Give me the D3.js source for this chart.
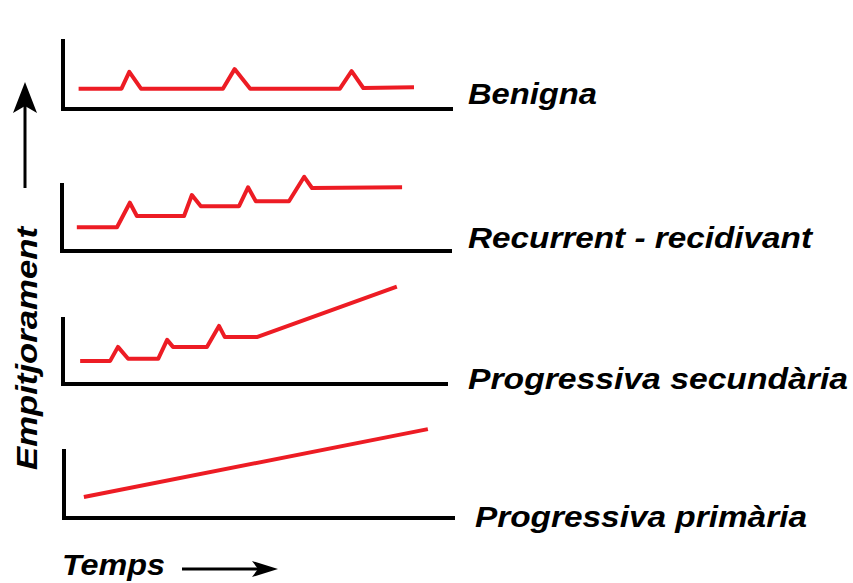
<!DOCTYPE html>
<html>
<head>
<meta charset="utf-8">
<script src="https://cdn.jsdelivr.net/npm/d3@7"></script>
<style>
  html, body { margin: 0; padding: 0; background: #fff; }
  svg { display: block; }
  text { font-family: "Liberation Sans", Arial, sans-serif; font-weight: bold; font-style: italic; fill: #000; }
</style>
</head>
<body>
<svg id="chart" width="853" height="583"></svg>
<script>
// ---- Data (time 0..100, severity 0..10 = axis height) ----
const panelNames = ["Benigna", "Recurrent - recidivant", "Progressiva secundària", "Progressiva primària"];

const benignaTime     = [4, 15, 17, 20, 41, 44, 48, 71, 74, 77, 90];
const benignaSev      = [2.9, 2.9, 5.3, 2.9, 2.9, 5.7, 2.9, 2.9, 5.4, 3.0, 3.1];

const recurrentTime   = [3.8, 14.1, 17.4, 19.2, 31.3, 33.3, 35.6, 45.4, 47.7, 49.7, 58.2, 62.1, 64.1, 87.2];
const recurrentSev    = [3.4, 3.4, 6.9, 5.0, 5.0, 8.0, 6.4, 6.4, 9.1, 7.1, 7.1, 10.6, 9.0, 9.1];

const secundariaTime  = [4.4, 12.1, 14.1, 16.7, 24.4, 26.7, 28.2, 36.9, 40.0, 41.5, 49.7, 85.6];
const secundariaSev   = [3.3, 3.3, 5.3, 3.6, 3.6, 6.3, 5.3, 5.3, 8.3, 6.7, 6.7, 13.9];

const primariaTime    = [5.1, 93.3];
const primariaSev     = [3.0, 12.7];

const xAxisTitle = "Temps";
const yAxisTitle = "Empitjorament";

// ---- Layout ----
const panels = [
  { time: benignaTime,    sev: benignaSev,    x0: 63, x1: 453, top: 39,  base: 109, lx: 468, ly: 104, lw: 129, fs: 30 },
  { time: recurrentTime,  sev: recurrentSev,  x0: 62, x1: 452, top: 183, base: 251, lx: 468, ly: 248, lw: 344, fs: 29 },
  { time: secundariaTime, sev: secundariaSev, x0: 63, x1: 448, top: 317, base: 384, lx: 468, ly: 389, lw: 380, fs: 29 },
  { time: primariaTime,   sev: primariaSev,   x0: 64, x1: 455, top: 449, base: 518, lx: 475, ly: 527, lw: 332, fs: 29 }
];

const svg = d3.select("#chart");
const red = "#ed1c24";

panels.forEach((p, i) => {
  const x = d3.scaleLinear().domain([0, 100]).range([p.x0, p.x0 + 390]);
  const y = d3.scaleLinear().domain([0, 10]).range([p.base, p.base - 70]);
  const g = svg.append("g");

  // axes as L-shape
  g.append("path")
    .attr("d", `M${p.x0},${p.top} V${p.base} H${p.x1}`)
    .attr("fill", "none")
    .attr("stroke", "#000")
    .attr("stroke-width", 4)
    .attr("stroke-linejoin", "miter");

  const pts = p.time.map((t, k) => [t, p.sev[k]]);
  const line = d3.line().x(d => x(d[0])).y(d => y(d[1]));
  g.append("path")
    .attr("d", line(pts))
    .attr("fill", "none")
    .attr("stroke", red)
    .attr("stroke-width", 4)
    .attr("stroke-linejoin", "round")
    .attr("stroke-linecap", "butt");

  g.append("text")
    .attr("x", p.lx)
    .attr("y", p.ly)
    .attr("font-size", p.fs)
    .attr("textLength", p.lw)
    .attr("lengthAdjust", "spacingAndGlyphs")
    .text(panelNames[i]);
});

// Y axis title + arrow
svg.append("text")
  .attr("transform", "translate(37,470) rotate(-90)")
  .attr("font-size", 29)
  .attr("textLength", 243)
  .attr("lengthAdjust", "spacingAndGlyphs")
  .text(yAxisTitle);

svg.append("line")
  .attr("x1", 25).attr("y1", 188).attr("x2", 25).attr("y2", 100)
  .attr("stroke", "#000").attr("stroke-width", 3);
svg.append("path")
  .attr("d", "M25,82 L37,113 L25,106 L13,113 Z")
  .attr("fill", "#000");

// X axis title + arrow
svg.append("text")
  .attr("x", 62)
  .attr("y", 575)
  .attr("font-size", 29)
  .attr("textLength", 103)
  .attr("lengthAdjust", "spacingAndGlyphs")
  .text(xAxisTitle);

svg.append("line")
  .attr("x1", 182).attr("y1", 569).attr("x2", 265).attr("y2", 569)
  .attr("stroke", "#000").attr("stroke-width", 3);
svg.append("path")
  .attr("d", "M278,569 L252,561 L258,569 L252,577 Z")
  .attr("fill", "#000");
</script>
</body>
</html>
